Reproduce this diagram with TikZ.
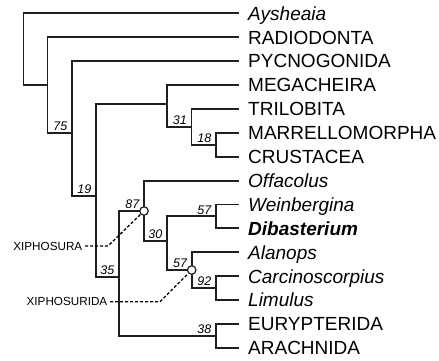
\documentclass[tikz,border=0pt]{standalone}
\usepackage{fontspec}
\setmainfont{Liberation Sans}
\begin{document}
\begin{tikzpicture}[x=1pt,y=-1pt,
  br/.style={line width=1.9pt, draw=black!88},
  taxon/.style={anchor=west, inner xsep=0pt, inner ysep=0pt, text height=13.6pt, text depth=0pt, font=\fontsize{19}{22}\selectfont},
  supp/.style={anchor=base east, inner sep=0pt, xshift=-4.5pt, yshift=2.3pt, font=\fontsize{12.5}{14}\selectfont\itshape},
  clade/.style={anchor=east, inner xsep=2.5pt, inner ysep=0pt, text height=8.4pt, text depth=0pt, font=\fontsize{11.7}{13}\selectfont},
  dashline/.style={dash pattern=on 3pt off 2pt, line width=1.3pt},
  ring/.style={circle, draw=black!88, fill=white, line width=1.2pt, minimum size=8.5pt, inner sep=0pt}]
\useasboundingbox (0,0) rectangle (439,360);
% tips
\foreach \n/\y in {Ay/13.3,Ra/37.2,Py/61.1,Me/85,Tr/108.9,Ma/132.8,Cr/156.7,Of/180.6,We/204.5,Di/228.4,Al/252.3,Ca/276.2,Li/300.1,Eu/324,Ar/347.9}
  \coordinate (t\n) at (239,\y);
\node[taxon, xshift=9pt] (Ay) at (tAy) {\textit{Aysheaia}};
\node[taxon, xshift=9pt] (Ra) at (tRa) {RADIODONTA};
\node[taxon, xshift=9pt] (Py) at (tPy) {PYCNOGONIDA};
\node[taxon, xshift=9pt] (Me) at (tMe) {MEGACHEIRA};
\node[taxon, xshift=9pt] (Tr) at (tTr) {TRILOBITA};
\node[taxon, xshift=9pt] (Ma) at (tMa) {MARRELLOMORPHA};
\node[taxon, xshift=9pt] (Cr) at (tCr) {CRUSTACEA};
\node[taxon, xshift=9pt] (Of) at (tOf) {\textit{Offacolus}};
\node[taxon, xshift=9pt] (We) at (tWe) {\textit{Weinbergina}};
\node[taxon, xshift=9pt] (Di) at (tDi) {\textbf{\textit{Dibasterium}}};
\node[taxon, xshift=9pt] (Al) at (tAl) {\textit{Alanops}};
\node[taxon, xshift=9pt] (Ca) at (tCa) {\textit{Carcinoscorpius}};
\node[taxon, xshift=9pt] (Li) at (tLi) {\textit{Limulus}};
\node[taxon, xshift=9pt] (Eu) at (tEu) {EURYPTERIDA};
\node[taxon, xshift=9pt] (Ar) at (tAr) {ARACHNIDA};
% internal nodes
\coordinate (n1) at (23.5,49);
\coordinate (n2) at (47.5,85);
\coordinate (n3) at (72,133);
\coordinate (n4) at (96,196);
\coordinate (n5) at (167,104);
\coordinate (n6) at (191.5,127);
\coordinate (n7) at (216,144.7);
\coordinate (n8) at (119,277);
\coordinate (n9) at (144,211);
\coordinate (n10) at (167,241);
\coordinate (n11) at (216,216.4);
\coordinate (n12) at (191.7,270);
\coordinate (n13) at (216,288);
\coordinate (n14) at (216,336);
% branches
\draw[br] (n1) |- (tAy); \draw[br] (n1) |- (n2);
\draw[br] (n2) |- (tRa); \draw[br] (n2) |- (n3);
\draw[br] (n3) |- (tPy); \draw[br] (n3) |- (n4);
\draw[br] (n4) |- (n5); \draw[br] (n4) |- (n8);
\draw[br] (n5) |- (tMe); \draw[br] (n5) |- (n6);
\draw[br] (n6) |- (tTr); \draw[br] (n6) |- (n7);
\draw[br] (n7) |- (tMa); \draw[br] (n7) |- (tCr);
\draw[br] (n8) |- (n9); \draw[br] (n8) |- (n14);
\draw[br] (n9) |- (tOf); \draw[br] (n9) |- (n10);
\draw[br] (n10) |- (n11); \draw[br] (n10) |- (n12);
\draw[br] (n11) |- (tWe); \draw[br] (n11) |- (tDi);
\draw[br] (n12) |- (tAl); \draw[br] (n12) |- (n13);
\draw[br] (n13) |- (tCa); \draw[br] (n13) |- (tLi);
\draw[br] (n14) |- (tEu); \draw[br] (n14) |- (tAr);
% support values
\node[supp] (s75) at (n3) {75};
\node[supp] (s19) at (n4) {19};
\node[supp] (s35) at (n8) {35};
\node[supp] (s31) at (n6) {31};
\node[supp] (s18) at (n7) {18};
\node[supp] (s87) at (n9) {87};
\node[supp] (s30) at (n10) {30};
\node[supp] (s57a) at (n11) {57};
\node[supp] (s57b) at (n12) {57};
\node[supp] (s92) at (n13) {92};
\node[supp] (s38) at (n14) {38};
% clade labels
\node[clade] (xs) at (85,246) {XIPHOSURA};
\node[clade] (xsd) at (110,301.7) {XIPHOSURIDA};
\coordinate (b1) at (108,246);
\coordinate (b2) at (160,301.7);
\node[ring] (c9) at (n9) {};
\node[ring] (c12) at (n12) {};
\draw[dashline] (xs.east) -- (b1) -- (c9);
\draw[dashline] (xsd.east) -- (b2) -- (c12);
\end{tikzpicture}
\end{document}
